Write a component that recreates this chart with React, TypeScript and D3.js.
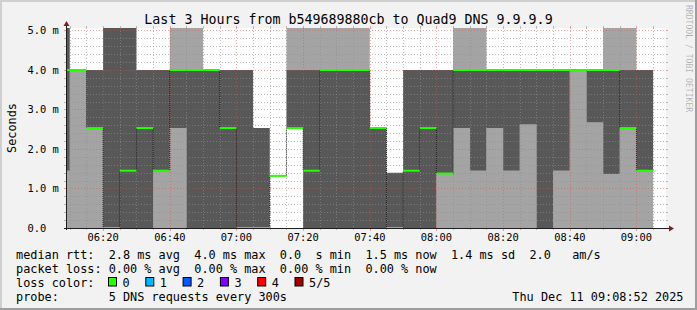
import React from "react";
import * as d3 from "d3";

// ---- data (5-minute steps, 5 DNS pings each, milliseconds) ----
const stepStarts = ["06:05","06:10","06:15","06:20","06:25","06:30","06:35","06:40","06:45","06:50","06:55","07:00","07:05","07:10","07:15","07:20","07:25","07:30","07:35","07:40","07:45","07:50","07:55","08:00","08:05","08:10","08:15","08:20","08:25","08:30","08:35","08:40","08:45","08:50","08:55","09:00"];
const ping1 = [0,0,0,0,0,0,0,0,0,0,0,0,0,1.32,2.53,0,0,0,0,0,0,0,0,0,0,0,0,0,0,0,0,0,0,0,0,0];
const ping2 = [1.45,4.0,2.53,0,0,0,1.45,2.53,0,0,0,0,0,1.32,2.53,0,0,0,0,0,0,0,0,1.38,2.53,1.45,2.53,1.45,2.62,0,1.45,4.0,2.67,1.37,2.53,1.45];
const median = [4.0,4.0,2.53,0,1.45,2.53,1.45,4.0,4.0,4.0,2.53,0,0,1.32,2.53,1.45,4.0,4.0,4.0,2.53,0,1.45,2.53,1.38,4.0,4.0,4.0,4.0,4.0,4.0,4.0,4.0,4.0,4.0,2.53,1.45];
const ping4 = [5.5,4,4,5.5,5.5,4,4,4,4,4,4,4,2.53,1.32,4,4,4,4,4,2.53,1.40,4,4,4,4,4,4,4,4,4,4,4,4,4,4,4];
const ping5 = [5.5,4,4,5.5,5.5,4,4,5.5,5.5,4,4,4,2.53,1.32,5.5,5.5,5.5,5.5,5.5,2.53,1.40,4,4,4,5.5,5.5,4,4,4,4,4,4,4,5.5,5.5,4];

const yTicks = [0, 1, 2, 3, 4, 5];
const yTickLabels = ["0.0", "1.0 m", "2.0 m", "3.0 m", "4.0 m", "5.0 m"];
const lossLabels = ["0", "1", "2", "3", "4", "5/5"];
const lossColors = ["#26ff00", "#00b8ff", "#0059ff", "#7e00ff", "#ff0000", "#a10000"];

const titleText = "Last 3 Hours from b549689880cb to Quad9 DNS 9.9.9.9";
const legendRtt = "median rtt:  2.8 ms avg  4.0 ms max  0.0  s min  1.5 ms now  1.4 ms sd  2.0   am/s";
const legendLoss = "packet loss: 0.00 % avg  0.00 % max  0.00 % min  0.00 % now";
const legendProbe = "probe:       5 DNS requests every 300s";
const dateText = "Thu Dec 11 09:08:52 2025";

const W = 697, H = 310;
const MONO = "'DejaVu Sans Mono', monospace";
const GRID = "rgba(143,143,143,0.6)";
const MGRID = "rgba(222,79,79,0.5)";

export default function App() {
  const parse = d3.timeParse("%Y-%m-%d %H:%M:%S");
  const t0 = parse("2025-12-11 06:08:52") as Date;
  const t1 = parse("2025-12-11 09:08:52") as Date;
  const X0 = 66, X1 = 666, Y0 = 228, Y1 = 28;
  const x = d3.scaleTime().domain([t0, t1]).range([X0, X1]);
  const y = d3.scaleLinear().domain([0, 5.063]).range([Y0, Y1]);

  type Row = { t: Date; p1: number; p2: number; p3: number; p4: number; p5: number };
  const rows: Row[] = stepStarts.map((s, i) => ({
    t: parse("2025-12-11 " + s + ":00") as Date,
    p1: ping1[i], p2: ping2[i], p3: median[i], p4: ping4[i], p5: ping5[i],
  }));
  const last = rows[rows.length - 1];
  const rowsExt = [...rows, { ...last, t: d3.timeMinute.offset(last.t, 5) }];

  const band = (lo: keyof Row, hi: keyof Row) =>
    d3.area<Row>()
      .x((d) => x(d.t))
      .y0((d) => y(d[lo] as number))
      .y1((d) => y(d[hi] as number))
      .curve(d3.curveStepAfter)(rowsExt) || "";

  const medLine = d3.line<Row>().x((d) => x(d.t)).y((d) => y(d.p3)).curve(d3.curveStepAfter)(rowsExt) || "";

  const minuteTicks = d3.timeMinute.every(5)!.range(t0, t1);
  const majorT = minuteTicks.filter((t) => t.getMinutes() % 20 === 0);
  const minorT = minuteTicks.filter((t) => t.getMinutes() % 20 !== 0);
  const hMinor = d3.range(1, 26).filter((i) => i % 5 !== 0).map((i) => i * 0.2);
  const fmt = d3.timeFormat("%H:%M");
  const px = (v: number) => Math.round(v) + 0.5;

  return (
    <svg width={W} height={H} style={{ position: "absolute", left: 0, top: 0, display: "block" }}
      xmlns="http://www.w3.org/2000/svg">
      <defs>
        <clipPath id="canvas">
          <rect x={X0} y={Y1} width={X1 - X0} height={Y0 - Y1} />
        </clipPath>
      </defs>
      {/* background and 3D border */}
      <rect x={0} y={0} width={W} height={H} fill="#f2f2f2" />
      <rect x={0} y={0} width={W} height={2} fill="#cfcfcf" />
      <rect x={0} y={0} width={2} height={H} fill="#cfcfcf" />
      <rect x={0} y={H - 2} width={W} height={2} fill="#9e9e9e" />
      <rect x={W - 2} y={0} width={2} height={H} fill="#9e9e9e" />
      {/* canvas */}
      <rect x={X0} y={Y1} width={X1 - X0} height={Y0 - Y1} fill="#ffffff" />

      <g clipPath="url(#canvas)">
        <path d={band("p1", "p2")} fill="#a4a4a4" />
        <path d={band("p2", "p4")} fill="#585858" />
        <path d={band("p4", "p5")} fill="#a4a4a4" />
      </g>

      {/* grid */}
      <g>
        {hMinor.map((v) => (
          <g key={"hm" + v}>
            <line x1={X0} x2={X1} y1={px(y(v))} y2={px(y(v))} stroke={GRID} strokeDasharray="1,2" />
            <line x1={X0 - 2} x2={X0} y1={px(y(v))} y2={px(y(v))} stroke={GRID} />
            <line x1={X1} x2={X1 + 2} y1={px(y(v))} y2={px(y(v))} stroke={GRID} />
          </g>
        ))}
        {minorT.map((t) => (
          <g key={"vm" + t.getTime()}>
            <line x1={px(x(t))} x2={px(x(t))} y1={Y1} y2={Y0} stroke={GRID} strokeDasharray="1,2" />
            <line x1={px(x(t))} x2={px(x(t))} y1={Y0} y2={Y0 + 2} stroke={GRID} />
            <line x1={px(x(t))} x2={px(x(t))} y1={Y1 - 2} y2={Y1} stroke={GRID} />
          </g>
        ))}
        {yTicks.filter((v) => v > 0).map((v) => (
          <g key={"hM" + v}>
            <line x1={X0} x2={X1} y1={px(y(v))} y2={px(y(v))} stroke={MGRID} strokeDasharray="1,2" />
            <line x1={X0 - 2} x2={X0} y1={px(y(v))} y2={px(y(v))} stroke={MGRID} />
            <line x1={X1} x2={X1 + 2} y1={px(y(v))} y2={px(y(v))} stroke={MGRID} />
          </g>
        ))}
        {majorT.map((t) => (
          <g key={"vM" + t.getTime()}>
            <line x1={px(x(t))} x2={px(x(t))} y1={Y1} y2={Y0} stroke={MGRID} strokeDasharray="1,2" />
            <line x1={px(x(t))} x2={px(x(t))} y1={Y0} y2={Y0 + 3} stroke={MGRID} />
            <line x1={px(x(t))} x2={px(x(t))} y1={Y1 - 2} y2={Y1} stroke={MGRID} />
          </g>
        ))}
      </g>

      {/* median */}
      <g clipPath="url(#canvas)">
        <path d={medLine} fill="none" stroke="#202020" strokeWidth={1} strokeDasharray="1,1" />
        {rows.map((d, i) => (
          <line key={i} x1={x(d.t)} x2={x(rowsExt[i + 1].t)} y1={y(d.p3)} y2={y(d.p3)}
            stroke={lossColors[0]} strokeWidth={2} />
        ))}
      </g>

      {/* axes */}
      <g shapeRendering="crispEdges">
        <line x1={X0 - 2} x2={X1 + 3} y1={Y0 + 0.5} y2={Y0 + 0.5} stroke="#1f1f1f" />
        <line x1={X0 + 0.5} x2={X0 + 0.5} y1={Y0 + 2} y2={Y1 - 2} stroke="#1f1f1f" />
      </g>
      <path d={`M${X1 + 8},${Y0 + 0.5} L${X1 + 3},${Y0 - 2.5} L${X1 + 3},${Y0 + 3.5} Z`} fill="#801f1f" />
      <path d={`M${X0 + 0.5},${Y1 - 7} L${X0 - 2.5},${Y1 - 2} L${X0 + 3.5},${Y1 - 2} Z`} fill="#801f1f" />

      {/* axis labels */}
      <g fontFamily={MONO} fontSize={10.4} fill="#000">
        {majorT.map((t) => (
          <text key={"xl" + t.getTime()} x={x(t)} y={241} textAnchor="middle">{fmt(t)}</text>
        ))}
        {yTicks.map((v, i) => (
          <text key={"yl" + v} x={27.5} y={y(v) + 3.8} textAnchor="start">{yTickLabels[i]}</text>
        ))}
      </g>
      <text transform={`translate(15.5,${(Y0 + Y1) / 2}) rotate(-90)`} textAnchor="middle"
        fontFamily={MONO} fontSize={11.85} fill="#000">Seconds</text>

      {/* title */}
      <text x={348.5} y={23.5} textAnchor="middle" fontFamily={MONO} fontSize={13.3} fill="#000">{titleText}</text>

      {/* watermark */}
      <text transform="translate(685.5,5) rotate(90)" fontFamily={MONO} fontSize={8.1} fill="rgba(0,0,0,0.28)">RRDTOOL / TOBI OETIKER</text>

      {/* legend */}
      <g fontFamily={MONO} fontSize={11.85} fill="#000" style={{ whiteSpace: "pre" }}>
        <text x={16} y={258.5} xmlSpace="preserve">{legendRtt}</text>
        <text x={16} y={272.5} xmlSpace="preserve">{legendLoss}</text>
        <text x={16} y={286.5} xmlSpace="preserve">{"loss color:"}</text>
        {lossLabels.map((l, i) => (
          <g key={"lc" + l}>
            <rect x={108.5 + i * 37.3} y={277.5} width={8} height={8.5} fill={lossColors[i]} stroke="#000" strokeWidth={1} />
            <text x={122.5 + i * 37.3} y={286.5}>{l}</text>
          </g>
        ))}
        <text x={16} y={300.5} xmlSpace="preserve">{legendProbe}</text>
        <text x={683.5} y={300.5} textAnchor="end">{dateText}</text>
      </g>
    </svg>
  );
}
